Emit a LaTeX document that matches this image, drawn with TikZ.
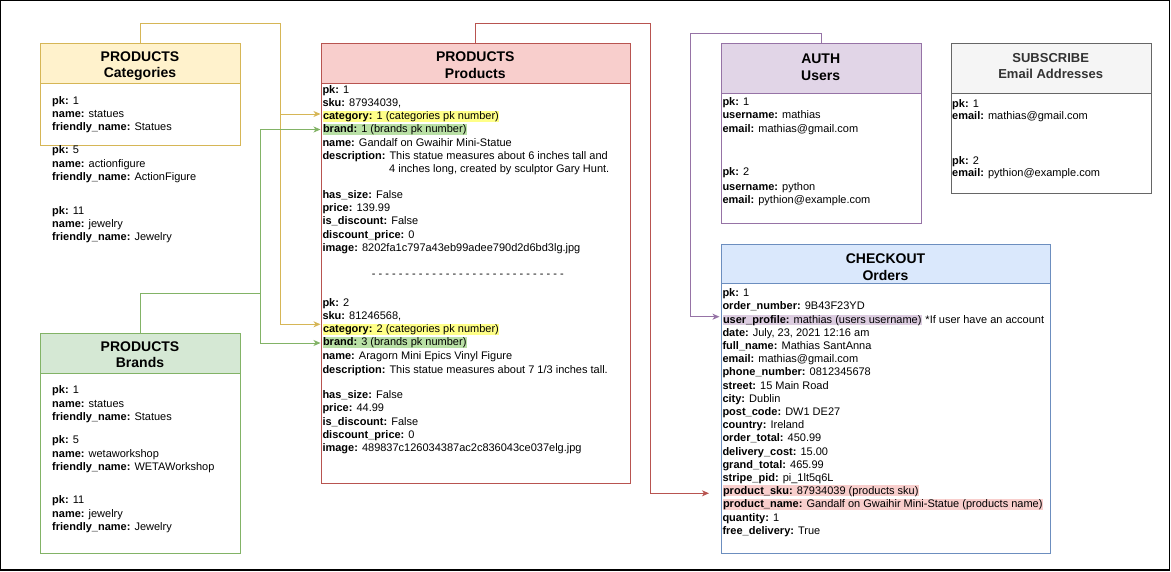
\documentclass[tikz,border=0pt]{standalone}
\usepackage{fontspec}
\setmainfont{Liberation Sans}
\usetikzlibrary{arrows.meta}
\definecolor{yelF}{HTML}{FFF2CC}\definecolor{yelD}{HTML}{D6B656}
\definecolor{grnF}{HTML}{D5E8D4}\definecolor{grnD}{HTML}{82B366}
\definecolor{redF}{HTML}{F8CECC}\definecolor{redD}{HTML}{B85450}
\definecolor{purF}{HTML}{E1D5E7}\definecolor{purD}{HTML}{9673A6}
\definecolor{bluF}{HTML}{DAE8FC}\definecolor{bluD}{HTML}{6C8EBF}
\definecolor{gryF}{HTML}{F5F5F5}\definecolor{gryD}{HTML}{666666}\definecolor{gryT}{HTML}{333333}
\definecolor{hlY}{HTML}{FFFF88}\definecolor{hlG}{HTML}{B9E0A5}
\definecolor{hlP}{HTML}{DCCCE0}\definecolor{hlR}{HTML}{F8CECC}
\newcommand{\rw}[4]{\node[rowtxt] (#1) at (#2) {\textbf{#3} #4};}
\newcommand{\hrw}[5]{\node[rowtxt,hlbox,fill=#5] (#1) at (#2) {\textbf{#3} #4};}
\begin{document}
\begin{tikzpicture}[x=1pt,y=-1pt,
  rowtxt/.style={anchor=base west,inner sep=0pt,font=\fontsize{11}{13.2}\selectfont},
  hlbox/.style={inner xsep=0.5pt,inner ysep=0pt,text height=8.7pt,text depth=2.2pt},
  hdr/.style={anchor=north west,line width=1pt,inner sep=0pt},
  ttl/.style={anchor=base,inner sep=0pt,font=\fontsize{14}{16.8}\selectfont\bfseries},
  ttlg/.style={anchor=base,inner sep=0pt,text=gryT,font=\fontsize{13}{15.6}\selectfont\bfseries},
  bodybox/.style={anchor=north west,line width=1pt,inner sep=0pt,fill=white},
  conn/.style={line width=1pt,-{Stealth[length=7pt,width=6pt,inset=2pt]}}]
\useasboundingbox (0,0) rectangle (1171,571);
\draw[black,line width=1.3pt] (0.7,0.7) rectangle (1169.5,570);

% ---------- boxes ----------
\node[hdr,fill=yelF,draw=yelD,minimum width=200pt,minimum height=40pt] (catH) at (40,43.3) {};
\node[bodybox,draw=yelD,minimum width=200pt,minimum height=61.7pt] (catB) at (40,83.3) {};
\node[ttl] (catT1) at (140,61) {PRODUCTS};
\node[ttl] (catT2) at (140,77.7) {Categories};

\node[hdr,fill=grnF,draw=grnD,minimum width=200pt,minimum height=40pt] (brH) at (40,333.3) {};
\node[bodybox,draw=grnD,minimum width=200pt,minimum height=180pt] (brB) at (40,373.3) {};
\node[ttl] (brT1) at (140,351) {PRODUCTS};
\node[ttl] (brT2) at (140,367.7) {Brands};

\node[hdr,fill=redF,draw=redD,minimum width=309.3pt,minimum height=40pt] (prH) at (320.7,43.3) {};
\node[bodybox,draw=redD,minimum width=309.3pt,minimum height=399.4pt] (prB) at (320.7,83.3) {};
\node[ttl] (prT1) at (475.3,61) {PRODUCTS};
\node[ttl] (prT2) at (475.3,78.3) {Products};

\node[hdr,fill=purF,draw=purD,minimum width=200pt,minimum height=50pt] (usH) at (720.7,43.3) {};
\node[bodybox,draw=purD,minimum width=200pt,minimum height=130pt] (usB) at (720.7,93.3) {};
\node[ttl] (usT1) at (820.7,63.3) {AUTH};
\node[ttl] (usT2) at (820.7,80) {Users};

\node[hdr,fill=gryF,draw=gryD,minimum width=200pt,minimum height=50pt] (sbH) at (950.7,43.3) {};
\node[bodybox,draw=gryD,minimum width=200pt,minimum height=100pt] (sbB) at (950.7,93.3) {};
\node[ttlg] (sbT1) at (1050.7,62.3) {SUBSCRIBE};
\node[ttlg] (sbT2) at (1050.7,78.3) {Email Addresses};

\node[hdr,fill=bluF,draw=bluD,minimum width=329.5pt,minimum height=39.3pt] (chH) at (720.7,244) {};
\node[bodybox,draw=bluD,minimum width=329.5pt,minimum height=269.7pt] (chB) at (720.7,283.3) {};
\node[ttl] (chT1) at (885.5,263.3) {CHECKOUT};
\node[ttl] (chT2) at (885.5,280) {Orders};

% ---------- categories ----------
\rw{c1}{52,104}{pk:}{1}
\rw{c2}{52,117.3}{name:}{statues}
\rw{c3}{52,130.6}{friendly\_name:}{Statues}
\rw{c4}{52,153.2}{pk:}{5}
\rw{c5}{52,167.2}{name:}{actionfigure}
\rw{c6}{52,180.2}{friendly\_name:}{ActionFigure}
\rw{c7}{52,214}{pk:}{11}
\rw{c8}{52,227.3}{name:}{jewelry}
\rw{c9}{52,240.6}{friendly\_name:}{Jewelry}

% ---------- brands ----------
\rw{b1}{52,393.3}{pk:}{1}
\rw{b2}{52,407.2}{name:}{statues}
\rw{b3}{52,420.3}{friendly\_name:}{Statues}
\rw{b4}{52,443.3}{pk:}{5}
\rw{b5}{52,457.2}{name:}{wetaworkshop}
\rw{b6}{52,470.3}{friendly\_name:}{WETAWorkshop}
\rw{b7}{52,503.3}{pk:}{11}
\rw{b8}{52,517}{name:}{jewelry}
\rw{b9}{52,530.3}{friendly\_name:}{Jewelry}

% ---------- products ----------
\rw{p1}{322.3,93}{pk:}{1}
\rw{p2}{322.3,106.3}{sku:}{87934039,}
\hrw{pcat1}{322.3,119.6}{category:}{1 (categories pk number)}{hlY}
\hrw{pbr1}{322.3,132.9}{brand:}{1 (brands pk number)}{hlG}
\rw{p5}{322.3,146.2}{name:}{Gandalf on Gwaihir Mini-Statue}
\rw{p6}{322.3,159.5}{description:}{This statue measures about 6 inches tall and}
\node[rowtxt] (p6b) at (389,172.8) {4 inches long, created by sculptor Gary Hunt.};
\rw{p7}{322.3,198.3}{has\_size:}{False}
\rw{p8}{322.3,211.6}{price:}{139.99}
\rw{p9}{322.3,224.9}{is\_discount:}{False}
\rw{p10}{322.3,238.2}{discount\_price:}{0}
\rw{p11}{322.3,251.5}{image:}{8202fa1c797a43eb99adee790d2d6bd3lg.jpg}
\node[rowtxt] (psep) at (371.7,277.3) {- - - - - - - - - - - - - - - - - - - - - - - - - - - - -};
\rw{q1}{322.3,306.3}{pk:}{2}
\rw{q2}{322.3,319.6}{sku:}{81246568,}
\hrw{pcat2}{322.3,332.6}{category:}{2 (categories pk number)}{hlY}
\hrw{pbr2}{322.3,345.8}{brand:}{3 (brands pk number)}{hlG}
\rw{q5}{322.3,359.6}{name:}{Aragorn Mini Epics Vinyl Figure}
\rw{q6}{322.3,373}{description:}{This statue measures about 7 1/3 inches tall.}
\rw{q7}{322.3,398.3}{has\_size:}{False}
\rw{q8}{322.3,411.7}{price:}{44.99}
\rw{q9}{322.3,425.4}{is\_discount:}{False}
\rw{q10}{322.3,438.2}{discount\_price:}{0}
\rw{q11}{322.3,451.7}{image:}{489837c126034387ac2c836043ce037elg.jpg}

% ---------- users ----------
\rw{u1}{722.3,105}{pk:}{1}
\rw{u2}{722.3,118.3}{username:}{mathias}
\rw{u3}{722.3,132}{email:}{mathias@gmail.com}
\rw{u4}{722.3,175.7}{pk:}{2}
\rw{u5}{722.3,190.3}{username:}{python}
\rw{u6}{722.3,203.3}{email:}{pythion@example.com}

% ---------- subscribe ----------
\rw{s1}{952,107.3}{pk:}{1}
\rw{s2}{952,119.7}{email:}{mathias@gmail.com}
\rw{s3}{952,164}{pk:}{2}
\rw{s4}{952,176.7}{email:}{pythion@example.com}

% ---------- checkout ----------
\rw{o1}{722.3,296.3}{pk:}{1}
\rw{o2}{722.3,309.2}{order\_number:}{9B43F23YD}
\hrw{oup}{722.3,323.2}{user\_profile:}{mathias (users username)}{hlP}
\node[rowtxt] (oupn) at ([xshift=3.1pt]oup.base east) {*If user have an account};
\rw{o4}{722.3,336.3}{date:}{July, 23, 2021 12:16 am}
\rw{o5}{722.3,349.3}{full\_name:}{Mathias SantAnna}
\rw{o6}{722.3,362.3}{email:}{mathias@gmail.com}
\rw{o7}{722.3,375.2}{phone\_number:}{0812345678}
\rw{o8}{722.3,389}{street:}{15 Main Road}
\rw{o9}{722.3,402}{city:}{Dublin}
\rw{o10}{722.3,415}{post\_code:}{DW1 DE27}
\rw{o11}{722.3,428}{country:}{Ireland}
\rw{o12}{722.3,441.3}{order\_total:}{450.99}
\rw{o13}{722.3,455}{delivery\_cost:}{15.00}
\rw{o14}{722.3,468}{grand\_total:}{465.99}
\rw{o15}{722.3,481.3}{stripe\_pid:}{pi\_1lt5q6L}
\hrw{osku}{722.3,494}{product\_sku:}{87934039 (products sku)}{hlR}
\hrw{oname}{722.3,507.3}{product\_name:}{Gandalf on Gwaihir Mini-Statue (products name)}{hlR}
\rw{o18}{722.3,521.3}{quantity:}{1}
\rw{o19}{722.3,534}{free\_delivery:}{True}

% ---------- connectors ----------
\coordinate (yTop) at (280.7,23.3);
\coordinate (gTop) at (260,293.3);
\coordinate (rTop) at (650,23.3);
\coordinate (pTop) at (690.7,33.3);
\coordinate (yEnd1) at (320.5,114);
\coordinate (yEnd2) at (320.5,324.3);
\coordinate (gEnd1) at (320.5,129.5);
\coordinate (gEnd2) at (320.5,343);
\coordinate (rEnd) at (709,493.3);
\coordinate (pEnd) at (719.5,316.7);
\draw[conn,draw=yelD] (catH.north) |- (yTop) |- (yEnd1);
\draw[conn,draw=yelD] (yTop) |- (yEnd2);
\draw[conn,draw=grnD] (brH.north) |- (gTop) |- (gEnd1);
\draw[conn,draw=grnD] (gTop) |- (gEnd2);
\draw[conn,draw=redD] (prH.north) |- (rTop) |- (rEnd);
\draw[conn,draw=purD] (usH.north) |- (pTop) |- (pEnd);
\end{tikzpicture}
\end{document}
